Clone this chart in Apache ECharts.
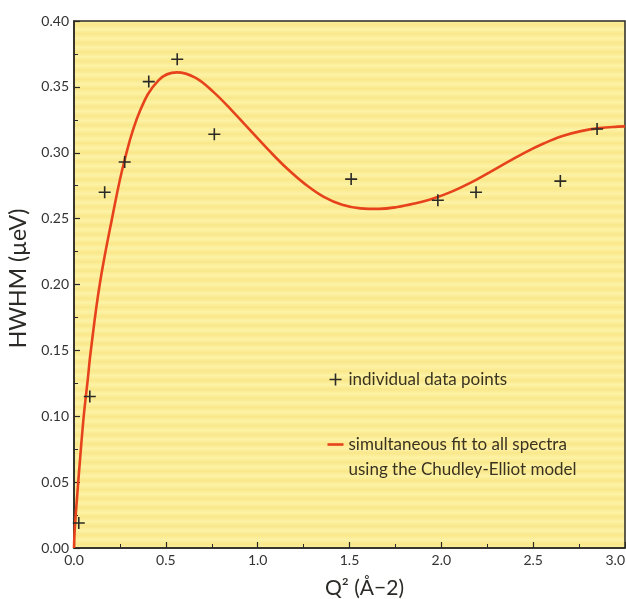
<!DOCTYPE html>
<html>
<head>
<meta charset="utf-8">
<script src="https://cdn.jsdelivr.net/npm/echarts@6/dist/echarts.min.js"></script>
<style>
  html, body { margin: 0; padding: 0; background: #ffffff; }
  #chart { width: 626px; height: 599px; }
</style>
</head>
<body>
<div id="chart"></div>
<script>
// Measured line widths (HWHM) against Q^2
const pointQ2 = [0.026, 0.086, 0.167, 0.276, 0.407, 0.562, 0.764, 1.509, 1.981, 2.189, 2.648, 2.848];
const pointHwhm = [0.019, 0.115, 0.270, 0.293, 0.354, 0.371, 0.314, 0.280, 0.264, 0.270, 0.2785, 0.318];

// Chudley-Elliot fit curve, sampled along Q^2
const fitQ2 = [0, 0.004, 0.017, 0.031, 0.053, 0.075, 0.09, 0.14, 0.207, 0.276, 0.36, 0.46, 0.56,
  0.66, 0.76, 0.86, 0.96, 1.06, 1.16, 1.26, 1.36, 1.46, 1.56, 1.66, 1.76, 1.86, 1.96,
  2.06, 2.16, 2.26, 2.36, 2.46, 2.56, 2.66, 2.76, 2.86, 2.96, 3.0];
const fitHwhm = [0, 0.014, 0.039, 0.064, 0.100, 0.128, 0.148, 0.200, 0.250, 0.2947, 0.332, 0.355, 0.361,
  0.357, 0.346, 0.332, 0.317, 0.302, 0.288, 0.276, 0.2665, 0.2605, 0.2578, 0.2574, 0.2588, 0.2617, 0.2655,
  0.2707, 0.2773, 0.2850, 0.2928, 0.3005, 0.3072, 0.3127, 0.3164, 0.3187, 0.3198, 0.3200];

// Axis ticks
const xTicks = { min: 0, max: 3.0, step: 0.5 };
const yTicks = { min: 0, max: 0.40, step: 0.05 };

const pointsName = 'individual data points';
const fitName = 'simultaneous fit';
const fitLegendLines = ['simultaneous fit to all spectra', 'using the Chudley-Elliot model'];

const FONT = 'Lato, "Open Sans", sans-serif';
const INK = '#2b2a26';
const RED = '#e6431c';
const PLUS = 'path://M5,0 L5,10 M0,5 L10,5';
const DASH = 'path://M0,0 L16,0 L16,2.6 L0,2.6 Z';

// Soft horizontal banding of the yellow panel
const bandStops = [];
const bands = 58;
for (let i = 0; i < bands; i++) {
  bandStops.push({ offset: i / bands, color: '#fdf3a6' });
  bandStops.push({ offset: (i + 0.5) / bands, color: '#f9e78a' });
}
bandStops.push({ offset: 1, color: '#fdf3a6' });

const chart = echarts.init(document.getElementById('chart'), null, { renderer: 'canvas' });

chart.setOption({
  backgroundColor: '#ffffff',
  animation: false,
  grid: {
    left: 74, top: 21, width: 551, height: 527,
    outerBoundsMode: 'none',
    containLabel: false,
    show: true,
    backgroundColor: new echarts.graphic.LinearGradient(0, 0, 0, 1, bandStops),
    borderColor: INK,
    borderWidth: 1.5
  },
  legend: {
    orient: 'vertical',
    left: 322,
    top: 366,
    itemWidth: 16,
    itemHeight: 12,
    itemGap: 23,
    symbolKeepAspect: true,
    selectedMode: false,
    textStyle: {
      fontFamily: FONT, fontSize: 17, color: '#3a3322',
      rich: {
        t: { fontFamily: FONT, fontSize: 17, color: '#3a3322', lineHeight: 25 },
        gap: { fontSize: 17, lineHeight: 25 }
      }
    },
    formatter: name => name === fitName
      ? '{gap| }\n' + fitLegendLines.map(s => '{t|' + s + '}').join('\n')
      : '{t|' + name + '}',
    data: [
      { name: pointsName, icon: PLUS, itemStyle: { color: 'none', borderColor: INK, borderWidth: 1.6 } },
      { name: fitName, icon: DASH, itemStyle: { color: RED, borderWidth: 0 } }
    ]
  },
  xAxis: {
    type: 'value',
    min: xTicks.min, max: xTicks.max, interval: xTicks.step,
    name: 'Q² (Å−2)',
    nameLocation: 'middle',
    nameGap: 30,
    nameTextStyle: { fontFamily: FONT, fontSize: 21, color: INK, padding: [0, 0, 0, 30] },
    axisLine: { lineStyle: { color: INK, width: 1.5 } },
    axisTick: { inside: true, length: 6, lineStyle: { color: INK, width: 1.2 } },
    minorTick: { show: true, splitNumber: 2, length: 4, lineStyle: { color: INK, width: 1 } },
    splitLine: { show: false },
    axisLabel: {
      fontFamily: FONT, fontSize: 14, color: '#333', margin: 5,
      alignMaxLabel: 'right',
      formatter: v => v.toFixed(1)
    }
  },
  yAxis: {
    type: 'value',
    min: yTicks.min, max: yTicks.max, interval: yTicks.step,
    name: 'HWHM (µeV)',
    nameLocation: 'middle',
    nameGap: 42,
    nameTextStyle: { fontFamily: FONT, fontSize: 23, color: INK, padding: [0, 0, 0, 12] },
    axisLine: { lineStyle: { color: INK, width: 1.5 } },
    axisTick: { inside: true, length: 6, lineStyle: { color: INK, width: 1.2 } },
    minorTick: { show: true, splitNumber: 2, length: 4, lineStyle: { color: INK, width: 1 } },
    splitLine: { show: false },
    axisLabel: {
      fontFamily: FONT, fontSize: 14, color: '#333', margin: 5,
      formatter: v => v.toFixed(2)
    }
  },
  series: [
    {
      name: fitName,
      type: 'line',
      data: fitQ2.map((q, i) => [q, fitHwhm[i]]),
      smooth: 0.4,
      symbol: 'none',
      clip: true,
      lineStyle: { color: RED, width: 2.6 },
      itemStyle: { color: RED },
      z: 2
    },
    {
      name: pointsName,
      type: 'scatter',
      data: pointQ2.map((q, i) => [q, pointHwhm[i]]),
      symbol: PLUS,
      symbolSize: 12,
      itemStyle: { color: 'none', borderColor: INK, borderWidth: 1.6, opacity: 1 },
      z: 3
    }
  ]
});
</script>
</body>
</html>
